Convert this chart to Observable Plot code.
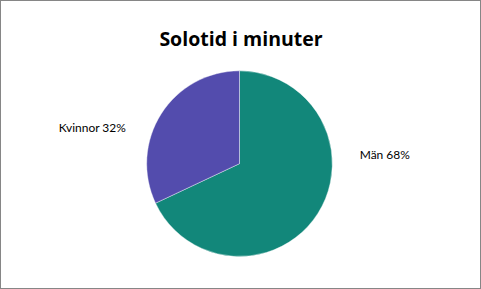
<!DOCTYPE html>
<html><head><meta charset="utf-8">
<script src="https://cdn.jsdelivr.net/npm/d3@7"></script>
<script src="https://cdn.jsdelivr.net/npm/@observablehq/plot@0.6"></script>
<style>
html,body{margin:0;padding:0;background:#fff}
#chart{position:relative;width:481px;height:289px;box-sizing:border-box;border:1px solid #868686;overflow:hidden;background:#fff}
#title{position:absolute;left:0;right:0;top:25px;text-align:center;font-family:"Open Sans",Lato,sans-serif;font-weight:bold;font-size:19.5px;color:#000;line-height:26px;margin:0;font-variant-ligatures:none;padding-left:1px}
#plot{position:absolute;left:-1px;top:-1px}
</style>
</head><body>
<div id="chart"><div id="title">Solotid i minuter</div><div id="plot"></div></div>
<script>
const categories = ["Män", "Kvinnor"];
const values = [68, 32];
const colors = ["#12877A", "#534CAD"];
const title = "Solotid i minuter";

const rows = categories.map((c, i) => ({category: c, value: values[i]}));
const total = d3.sum(values);
const arcs = d3.pie().sort(null).value(d => d.value)(rows);

// label placement (layout, in pie-radius units)
const labelX = a => Math.sin(a) > 0 ? 1.29 : -1.23;
const labelY = a => Math.sin(a) > 0 ? 0.10 : 0.39;

const pieMark = (index, scales, vals, dims) => {
  const cx = scales.x(0), cy = scales.y(0);
  const r = Math.abs(scales.x(1) - scales.x(0));
  const color = scales.color || d3.scaleOrdinal(categories, colors);
  const g = d3.create("svg:g").attr("transform", `translate(${cx},${cy})`);
  g.selectAll("path").data(arcs).join("path")
    .attr("d", d3.arc().innerRadius(0).outerRadius(r))
    .attr("fill", d => color(d.data.category))
    .attr("stroke", "#ffffff").attr("stroke-width", 0.4);
  return g.node();
};

const labels = arcs.map(a => {
  const mid = (a.startAngle + a.endAngle) / 2;
  return {
    text: `${a.data.category} ${Math.round(a.data.value / total * 100)}%`,
    x: labelX(mid), y: labelY(mid),
    anchor: Math.sin(mid) > 0 ? "start" : "end"
  };
});

const chart = Plot.plot({
  width: 481, height: 289,
  x: {domain: [-1, 1], range: [147, 333], axis: null},
  y: {domain: [-1, 1], range: [257, 71], axis: null},
  color: {type: "ordinal", domain: categories, range: colors},
  style: {background: "transparent", fontFamily: "Lato, 'Open Sans', sans-serif"},
  marks: [
    pieMark,
    Plot.text(labels.filter(d => d.anchor === "start"), {x: "x", y: "y", text: "text", textAnchor: "start", fontSize: 12, fill: "#000"}),
    Plot.text(labels.filter(d => d.anchor === "end"), {x: "x", y: "y", text: "text", textAnchor: "end", fontSize: 12, fill: "#000"})
  ]
});
document.getElementById("plot").appendChild(chart);
</script>
</body></html>
